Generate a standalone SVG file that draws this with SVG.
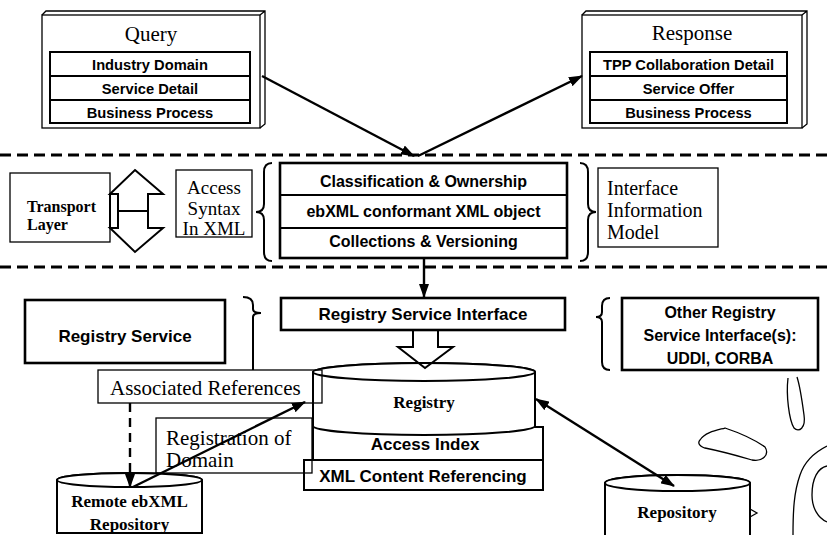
<svg xmlns="http://www.w3.org/2000/svg" width="827" height="535" viewBox="0 0 827 535">
<style>
.box{fill:#fff;stroke:#000;stroke-width:2}
.thick{fill:#fff;stroke:#000;stroke-width:2.6}
.thin{fill:none;stroke:#000;stroke-width:1.3}
.ln{fill:none;stroke:#000;stroke-width:2}
.serif{font-family:"Liberation Serif","Times New Roman",serif;font-size:21px;fill:#000}
.serifb{font-family:"Liberation Serif","Times New Roman",serif;font-size:17px;font-weight:bold;fill:#000}
.sans{font-family:"Liberation Sans",Arial,sans-serif;font-weight:bold;fill:#000}
.s14{font-size:14.7px}
.s16{font-size:16px}
.s17{font-size:17px}
.mid{text-anchor:middle}
.conn{fill:none;stroke:#000;stroke-width:2.4}
.sep{fill:none;stroke:#000;stroke-width:3;stroke-dasharray:11 6}
</style>
<defs>
<marker id="ah" markerUnits="userSpaceOnUse" markerWidth="14" markerHeight="10" refX="13" refY="5" orient="auto-start-reverse">
<path d="M0,0 L14,5 L0,10 Z" fill="#000"/>
</marker>
</defs>
<rect width="827" height="535" fill="#fff"/>

<g id="separators">
<line class="sep" x1="0" y1="155" x2="827" y2="155"/>
<line class="sep" x1="0" y1="267" x2="827" y2="267"/>
</g>

<g id="query">
<rect class="thin" x="42" y="15" width="218" height="113" fill="#fff"/>
<path class="thin" d="M42,15 L46,11 L265,11 L265,124 L260,128 M260,15 L265,11"/>
<text class="serif mid" x="151" y="41">Query</text>
<rect class="box" x="50" y="52" width="200" height="71"/>
<line class="ln" x1="50" y1="76" x2="250" y2="76"/>
<line class="ln" x1="50" y1="100" x2="250" y2="100"/>
<text class="sans s14 mid" x="150" y="69.5">Industry Domain</text>
<text class="sans s14 mid" x="150" y="93.5">Service Detail</text>
<text class="sans s14 mid" x="150" y="117.5">Business Process</text>
</g>

<g id="response">
<rect class="thin" x="582" y="15" width="220" height="113" fill="#fff"/>
<path class="thin" d="M582,15 L586,11 L807,11 L807,124 L802,128 M802,15 L807,11"/>
<text class="serif mid" x="692" y="40">Response</text>
<rect class="box" x="590" y="52" width="197" height="71"/>
<line class="ln" x1="590" y1="76" x2="787" y2="76"/>
<line class="ln" x1="590" y1="100" x2="787" y2="100"/>
<text class="sans s14 mid" x="688.5" y="69.5">TPP Collaboration Detail</text>
<text class="sans s14 mid" x="688.5" y="93.5">Service Offer</text>
<text class="sans s14 mid" x="688.5" y="117.5">Business Process</text>
</g>

<g id="transport-layer">
<rect class="thin" x="10" y="173" width="100" height="69" fill="#fff"/>
<text class="serifb" x="27" y="212" style="font-size:16px">Transport</text>
<text class="serifb" x="27" y="230" style="font-size:16px">Layer</text>
</g>

<g id="transport-arrow">
<polygon class="ln" fill="#fff" points="135,170 163,194 148,194 148,228 163,228 135,252 110,228 118,228 118,194 110,194"/>
<rect class="ln" x="110" y="194" width="8" height="34" fill="#fff"/>
<line class="ln" x1="118" y1="211" x2="148" y2="211"/>
</g>

<g id="access-syntax">
<rect class="thin" x="176" y="170" width="76" height="67" fill="#fff"/>
<text class="serif mid" x="214" y="194" style="font-size:19px">Access</text>
<text class="serif mid" x="214" y="214.5" style="font-size:19px">Syntax</text>
<text class="serif mid" x="214" y="235" style="font-size:19px">In XML</text>
</g>

<g id="info-model">
<path class="ln" d="M272,163 Q264,163 264,172 L264,204 Q264,212 256,212 Q264,212 264,220 L264,252 Q264,261 272,261"/>
<rect class="thick" x="280" y="163" width="287" height="95"/>
<line class="ln" x1="280" y1="195" x2="567" y2="195"/>
<line class="ln" x1="280" y1="228" x2="567" y2="228"/>
<text class="sans s16 mid" x="423.5" y="187">Classification &amp; Ownership</text>
<text class="sans s16 mid" x="423.5" y="217">ebXML conformant XML object</text>
<text class="sans s16 mid" x="423.5" y="247">Collections &amp; Versioning</text>
<path class="ln" d="M580,163 Q588,163 588,172 L588,204 Q588,212 596,212 Q588,212 588,220 L588,252 Q588,261 580,261"/>
</g>

<g id="interface-information-model">
<rect class="thin" x="598" y="168" width="120" height="79" fill="#fff"/>
<text class="serif" x="607" y="195" style="font-size:20px">Interface</text>
<text class="serif" x="607" y="217" style="font-size:20px">Information</text>
<text class="serif" x="607" y="239" style="font-size:20px">Model</text>
</g>

<g id="registry-service">
<rect class="thick" x="25" y="300" width="200" height="63"/>
<text class="sans s17 mid" x="125" y="342">Registry Service</text>
<path class="ln" d="M243,297 Q253,297 253,305 L253,309 Q253,313 261,313 Q253,313 253,317 L253,370"/>
</g>

<g id="registry-service-interface">
<rect class="thick" x="281" y="298" width="284" height="32"/>
<text class="sans s17 mid" x="423" y="320">Registry Service Interface</text>
</g>

<g id="other-registry">
<path class="ln" d="M610,298 Q602,298 602,306 L602,312 Q602,317 596,317 Q602,317 602,322 L602,362 Q602,370 610,370"/>
<rect class="thick" x="622" y="298" width="196" height="72"/>
<text class="sans s16 mid" x="720" y="318">Other Registry</text>
<text class="sans s16 mid" x="720" y="341">Service Interface(s):</text>
<text class="sans s16 mid" x="720" y="364">UDDI, CORBA</text>
</g>

<g id="registry">
<rect class="box" x="313" y="427" width="230" height="33"/>
<rect class="box" x="304" y="460" width="239" height="30"/>
<text class="sans s17 mid" x="425" y="450">Access Index</text>
<text class="sans s17 mid" x="423" y="482">XML Content Referencing</text>
<path class="box" d="M313,372 L313,426 A111,9 0 0 0 535,426 L535,372 A111,9 0 0 0 313,372 Z"/>
<ellipse class="box" cx="424" cy="372" rx="111" ry="9"/>
<text class="serifb mid" x="424" y="408">Registry</text>
<polygon class="ln" fill="#fff" points="413,330 413,347 398,347 425,368 453,347 438,347 438,330"/>
</g>

<g id="repository">
<path class="box" d="M605,483 L605,545 L750,545 L750,483 A72.5,8 0 0 0 605,483 Z"/>
<ellipse class="box" cx="677.5" cy="483" rx="72.5" ry="8"/>
<path class="thin" d="M750,509 L757,513 L750,517"/>
<text class="serifb mid" x="677" y="518">Repository</text>
</g>

<g id="remote-repository">
<path class="box" d="M57,480 L57,533 L202,533 L202,480 A72.5,7 0 0 0 57,480 Z"/>
<ellipse class="box" cx="129.5" cy="480" rx="72.5" ry="7"/>
<text class="serifb mid" x="129.5" y="507">Remote ebXML</text>
<text class="serifb mid" x="129.5" y="530">Repository</text>
</g>

<g id="connectors">
<line class="conn" x1="262" y1="76" x2="414" y2="156" marker-end="url(#ah)"/>
<line class="conn" x1="418" y1="156" x2="582" y2="76" marker-end="url(#ah)"/>
<line class="conn" x1="424" y1="258" x2="424" y2="297" marker-end="url(#ah)"/>
<line class="conn" x1="536" y1="399" x2="674" y2="486" marker-start="url(#ah)" marker-end="url(#ah)"/>
<line class="conn" x1="133" y1="487" x2="305" y2="402" marker-end="url(#ah)"/>
<line class="conn" x1="130" y1="403" x2="130" y2="487" stroke-dasharray="9 6" marker-end="url(#ah)"/>
</g>

<g id="associated-references">
<rect class="thin" x="98" y="370" width="224" height="33" fill="#fff"/>
<text class="serif" x="110" y="395">Associated References</text>
</g>

<g id="registration-of-domain">
<rect class="thin" x="156" y="418" width="156" height="55" fill="#fff"/>
<text class="serif" x="166" y="445">Registration of</text>
<text class="serif" x="166" y="467">Domain</text>
</g>

<g id="scan-marks">
<path class="thin" d="M788,378 C786,395 789,420 794,428 C799,433 806,428 804,415 C802,400 800,386 797,377"/>
<path class="thin" d="M700,440 C705,432 718,430 725,428 C737,432 755,440 765,447 C770,455 762,462 752,460 C735,455 715,450 705,448 C698,446 698,442 700,440 Z"/>
<path class="thin" d="M827,446 C815,452 805,460 800,475 C794,492 793,510 793,535"/>
<path class="thin" d="M827,466 C818,468 812,478 812,495 C812,508 818,518 827,522"/>
</g>
</svg>
